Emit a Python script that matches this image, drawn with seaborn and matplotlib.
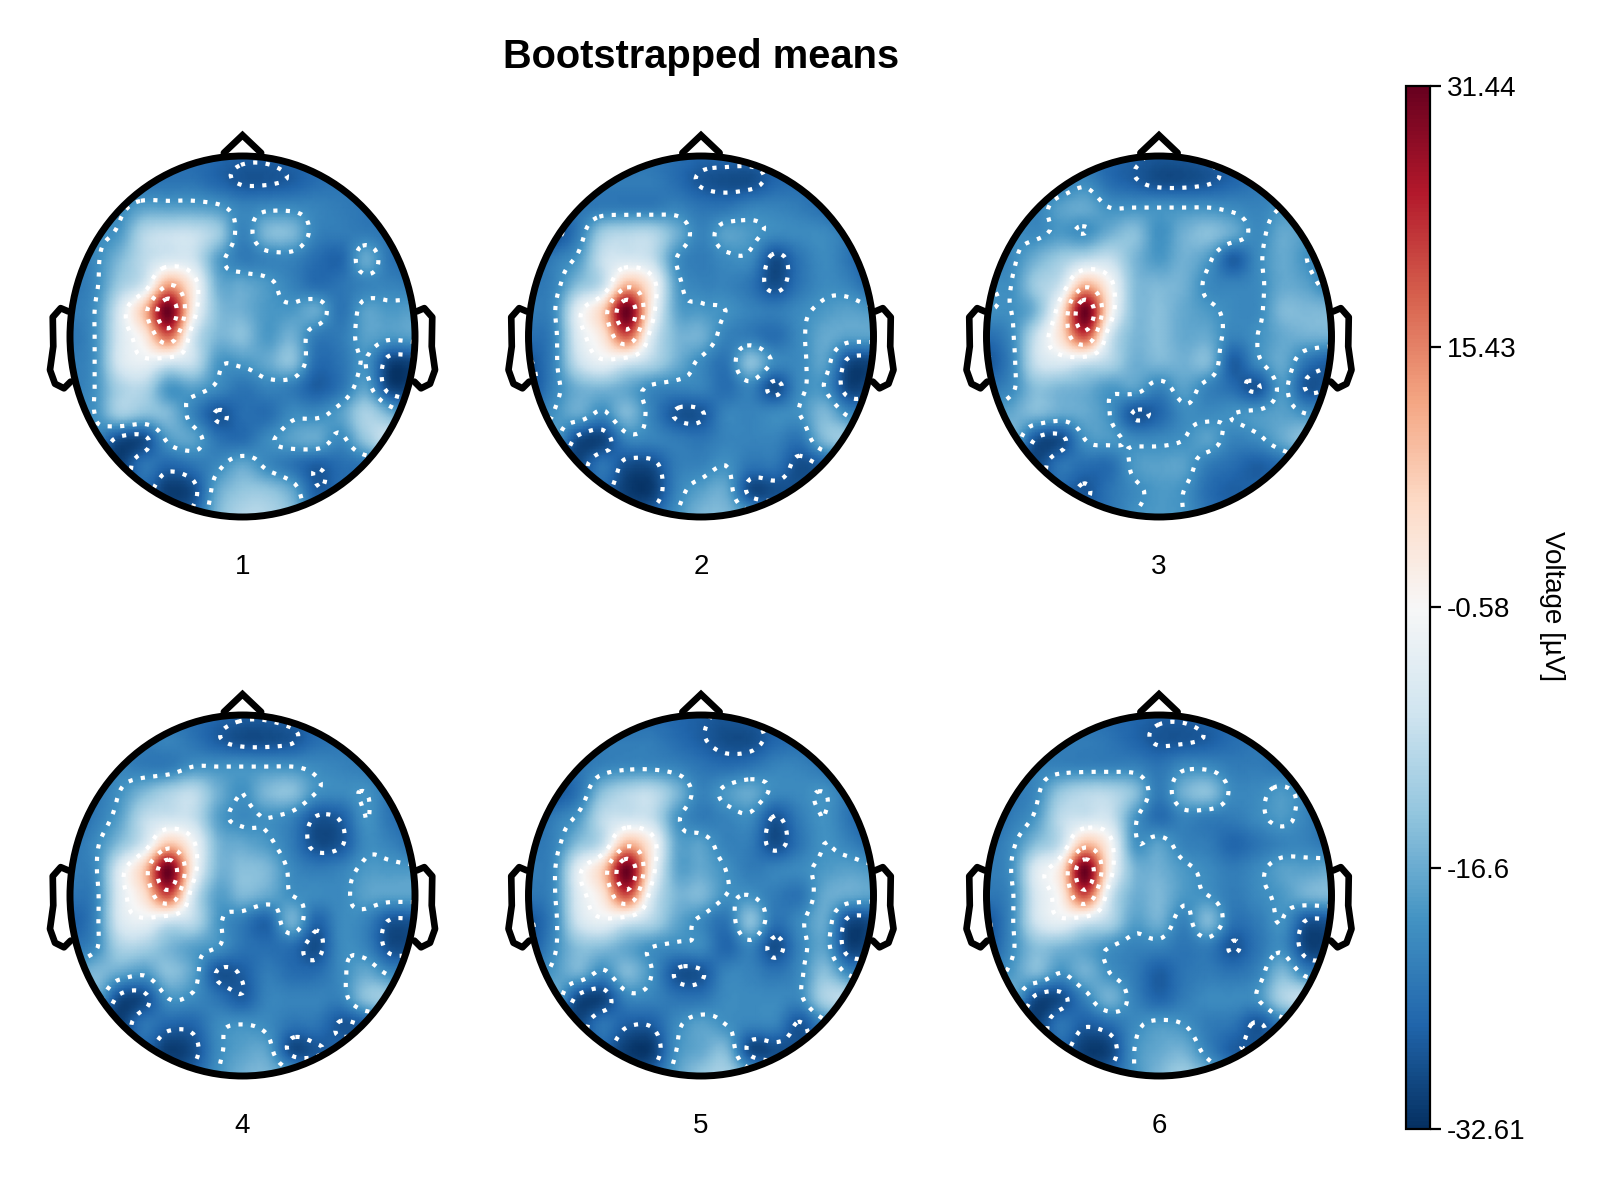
import matplotlib
matplotlib.use("Agg")
import matplotlib.pyplot as plt
import numpy as np
import seaborn as sns
from matplotlib.cm import ScalarMappable
from matplotlib.colors import Normalize
from matplotlib.patches import Ellipse

sns.set_theme(style="white")
plt.rcParams["font.family"] = ["Liberation Sans", "DejaVu Sans"]

# voltage on a 15x15 grid over the head, top row = front
panel_1 = [
    [-24,-24,-24,-24,-24,-25,-26,-27,-27,-26,-25,-24,-24,-24,-24],
    [-23,-23,-23,-24,-24,-24,-26,-28,-28,-27,-25,-24,-24,-24,-24],
    [-23,-22,-21,-18,-18,-18,-19,-22,-21,-21,-22,-23,-24,-25,-25],
    [-22,-21,-19,-10,-8,-8,-12,-22,-15,-15,-22,-23,-23,-24,-24],
    [-24,-21,-15,-9,-6,-7,-18,-23,-22,-22,-25,-26,-17,-24,-25],
    [-24,-21,-12,-6,12,1,-16,-17,-19,-22,-25,-24,-22,-22,-23],
    [-23,-20,-6,9,31,1,-14,-16,-19,-19,-17,-24,-18,-19,-18],
    [-24,-20,-6,2,18,-6,-15,-14,-19,-16,-23,-23,-18,-19,-18],
    [-23,-20,-6,-3,-6,-8,-19,-19,-17,-14,-25,-24,-20,-30,-30],
    [-23,-20,-11,-10,-19,-18,-21,-24,-22,-23,-27,-24,-18,-30,-30],
    [-21,-20,-12,-14,-15,-22,-28,-25,-25,-21,-21,-18,-11,-16,-24],
    [-26,-22,-29,-29,-19,-18,-24,-25,-21,-18,-17,-21,-13,-8,-16],
    [-28,-30,-31,-24,-26,-24,-21,-17,-21,-24,-27,-25,-24,-22,-23],
    [-28,-28,-29,-26,-31,-29,-17,-13,-13,-17,-27,-25,-24,-24,-24],
    [-28,-28,-28,-28,-28,-26,-15,-10,-10,-14,-24,-24,-24,-24,-24],
]
panel_2 = [
    [-24,-24,-24,-24,-24,-24,-25,-26,-26,-26,-26,-25,-25,-25,-25],
    [-24,-24,-24,-23,-23,-23,-25,-28,-29,-29,-26,-25,-25,-26,-26],
    [-25,-25,-24,-23,-23,-23,-22,-24,-24,-22,-22,-23,-25,-28,-26],
    [-28,-29,-23,-12,-10,-10,-16,-22,-18,-19,-21,-21,-21,-24,-29],
    [-27,-23,-19,-8,-6,-8,-20,-23,-21,-21,-29,-24,-21,-24,-29],
    [-24,-22,-14,-8,10,1,-18,-22,-22,-24,-29,-24,-21,-22,-26],
    [-23,-21,-4,7,31,1,-17,-19,-20,-22,-23,-21,-19,-18,-19],
    [-25,-22,-5,3,19,-5,-15,-16,-22,-23,-25,-21,-17,-18,-18],
    [-28,-22,-8,-3,-6,-10,-16,-21,-24,-14,-21,-21,-18,-29,-30],
    [-29,-22,-16,-15,-17,-21,-22,-22,-25,-22,-29,-21,-20,-30,-29],
    [-25,-20,-17,-21,-15,-22,-28,-28,-22,-22,-21,-20,-15,-21,-24],
    [-25,-19,-29,-30,-22,-22,-23,-24,-22,-22,-22,-24,-15,-13,-24],
    [-27,-30,-30,-24,-29,-29,-23,-22,-20,-24,-24,-29,-27,-25,-25],
    [-28,-28,-28,-26,-31,-31,-22,-18,-17,-29,-29,-28,-26,-25,-25],
    [-28,-28,-28,-28,-28,-26,-20,-15,-15,-18,-24,-25,-25,-25,-25],
]
panel_3 = [
    [-24,-24,-24,-24,-25,-26,-27,-28,-28,-27,-26,-25,-24,-24,-24],
    [-24,-24,-24,-23,-21,-25,-27,-29,-29,-28,-26,-24,-23,-24,-24],
    [-22,-22,-22,-18,-17,-20,-20,-20,-20,-20,-21,-22,-20,-20,-24],
    [-22,-21,-21,-19,-20,-16,-14,-20,-16,-14,-17,-21,-17,-19,-24],
    [-24,-21,-16,-12,-9,-8,-15,-19,-16,-19,-27,-21,-17,-20,-24],
    [-20,-20,-12,-7,10,0,-14,-15,-16,-21,-22,-21,-17,-18,-22],
    [-20,-20,-15,2,31,2,-14,-14,-17,-19,-21,-21,-15,-15,-15],
    [-25,-21,-8,4,20,-6,-15,-14,-17,-17,-22,-20,-17,-16,-16],
    [-28,-22,-8,-5,-7,-10,-16,-15,-16,-15,-27,-21,-17,-24,-27],
    [-24,-21,-14,-15,-16,-19,-18,-22,-18,-22,-25,-28,-19,-28,-27],
    [-20,-17,-15,-17,-17,-20,-28,-26,-21,-21,-20,-19,-18,-20,-22],
    [-18,-16,-28,-29,-20,-19,-21,-21,-20,-18,-22,-21,-17,-14,-20],
    [-28,-29,-30,-24,-25,-25,-19,-18,-18,-23,-25,-27,-25,-22,-22],
    [-28,-28,-28,-26,-28,-24,-21,-19,-20,-25,-27,-26,-25,-25,-25],
    [-28,-28,-28,-28,-26,-24,-20,-19,-20,-24,-26,-25,-25,-25,-25],
]
panel_4 = [
    [-24,-24,-24,-24,-24,-25,-26,-27,-27,-26,-25,-24,-24,-24,-24],
    [-23,-23,-23,-23,-22,-24,-27,-29,-29,-28,-25,-24,-24,-24,-24],
    [-24,-23,-22,-23,-23,-20,-20,-20,-20,-20,-21,-22,-23,-24,-24],
    [-27,-24,-20,-15,-11,-9,-16,-20,-15,-14,-20,-21,-20,-24,-28],
    [-27,-23,-18,-9,-7,-8,-18,-21,-20,-22,-28,-27,-20,-24,-26],
    [-24,-21,-14,-6,8,-1,-15,-17,-19,-23,-29,-28,-21,-22,-25],
    [-23,-21,-5,8,31,1,-15,-14,-15,-21,-23,-22,-19,-19,-19],
    [-24,-22,-5,4,20,-6,-18,-15,-17,-20,-21,-21,-18,-18,-18],
    [-27,-22,-6,-3,-7,-9,-19,-23,-26,-16,-26,-21,-22,-28,-28],
    [-24,-21,-11,-11,-15,-18,-20,-24,-25,-25,-29,-21,-22,-29,-29],
    [-20,-15,-17,-19,-14,-18,-28,-27,-23,-25,-25,-21,-17,-21,-23],
    [-22,-17,-29,-29,-20,-21,-24,-27,-22,-22,-22,-22,-14,-13,-23],
    [-28,-30,-31,-24,-26,-26,-21,-20,-21,-24,-24,-28,-27,-24,-24],
    [-28,-28,-29,-26,-31,-29,-21,-18,-18,-29,-28,-26,-25,-25,-25],
    [-28,-28,-28,-28,-28,-26,-20,-16,-15,-18,-24,-25,-25,-25,-25],
]
panel_5 = [
    [-24,-24,-24,-24,-25,-25,-26,-27,-28,-27,-26,-25,-25,-25,-25],
    [-24,-24,-24,-23,-23,-23,-25,-27,-29,-29,-26,-25,-25,-26,-26],
    [-25,-25,-24,-22,-21,-21,-22,-24,-25,-24,-22,-22,-24,-27,-26],
    [-28,-28,-24,-14,-10,-9,-15,-22,-19,-17,-21,-21,-20,-24,-29],
    [-27,-23,-19,-9,-7,-8,-19,-23,-22,-21,-28,-23,-20,-24,-28],
    [-24,-22,-14,-8,10,1,-17,-18,-22,-23,-29,-24,-20,-22,-25],
    [-23,-21,-4,7,31,1,-17,-17,-20,-23,-22,-21,-19,-18,-19],
    [-24,-21,-5,3,20,-5,-15,-15,-20,-20,-23,-24,-17,-17,-18],
    [-28,-22,-7,-3,-6,-10,-17,-21,-24,-14,-24,-21,-17,-29,-29],
    [-28,-21,-14,-14,-17,-20,-21,-21,-26,-22,-29,-22,-18,-30,-29],
    [-23,-19,-16,-21,-15,-20,-28,-28,-22,-22,-24,-21,-14,-21,-24],
    [-22,-17,-29,-30,-22,-22,-24,-24,-21,-21,-21,-21,-11,-10,-20],
    [-28,-30,-30,-24,-27,-27,-21,-18,-20,-22,-22,-28,-22,-20,-22],
    [-28,-28,-28,-26,-31,-31,-20,-17,-15,-29,-29,-28,-25,-25,-25],
    [-28,-28,-28,-28,-28,-26,-18,-13,-11,-17,-24,-25,-25,-25,-25],
]
panel_6 = [
    [-24,-24,-24,-24,-24,-25,-26,-27,-27,-26,-25,-25,-25,-25,-25],
    [-24,-24,-24,-23,-23,-24,-26,-28,-28,-27,-25,-24,-24,-24,-24],
    [-24,-23,-22,-22,-22,-22,-22,-24,-21,-21,-23,-23,-24,-25,-25],
    [-27,-24,-21,-13,-10,-10,-14,-23,-16,-14,-21,-21,-19,-22,-26],
    [-26,-23,-19,-9,-7,-7,-19,-25,-22,-23,-23,-21,-19,-22,-26],
    [-24,-21,-14,-8,9,0,-19,-18,-22,-23,-26,-24,-22,-22,-24],
    [-23,-20,-5,3,31,1,-15,-16,-19,-21,-23,-21,-18,-18,-17],
    [-24,-21,-6,1,20,-6,-16,-15,-19,-20,-23,-21,-19,-16,-15],
    [-28,-21,-7,-3,-6,-10,-18,-16,-22,-15,-24,-23,-20,-28,-28],
    [-28,-21,-14,-15,-17,-20,-22,-22,-24,-23,-28,-24,-21,-30,-30],
    [-23,-19,-15,-20,-16,-20,-23,-27,-24,-23,-24,-22,-15,-22,-24],
    [-22,-17,-29,-29,-22,-16,-22,-26,-23,-21,-21,-20,-11,-9,-20],
    [-28,-30,-31,-24,-27,-25,-21,-19,-20,-23,-24,-28,-23,-21,-23],
    [-28,-28,-29,-26,-31,-30,-20,-17,-16,-22,-27,-27,-25,-25,-25],
    [-28,-28,-28,-28,-28,-26,-20,-15,-12,-16,-22,-25,-25,-25,-25],
]
panels = [panel_1, panel_2, panel_3, panel_4, panel_5, panel_6]
panel_labels = ["1", "2", "3", "4", "5", "6"]
contour_levels = [-27.5, -20, -2, 12, 24]
cbar_ticks = [-32.61, -16.6, -0.58, 15.43, 31.44]
cbar_labels = ["-32.61", "-16.6", "-0.58", "15.43", "31.44"]
vmin, vmax = -32.61, 31.44

# head outline in head radii
nose_x = [-0.108, 0, 0.108]
nose_y = [1.017, 1.115, 1.017]
ear_x = [1.01, 1.054, 1.10, 1.097, 1.116, 1.087, 1.035, 0.996]
ear_y = [0.139, 0.157, 0.107, -0.055, -0.185, -0.262, -0.287, -0.25]

W, H = 1600, 1200
centers_x = [242.5, 701, 1159]
centers_y = [336.5, 895.5]
rx, ry = 172.5, 180.5
pad = 1.25
k = 8  # display smoothing per grid step
n = (len(panel_1) - 1) * k + 1
cmap = sns.color_palette("RdBu_r", as_cmap=True)


def to_grid(v):
    return (np.asarray(v) + 1) * (n - 1) / 2


def smooth_axis(a):
    # catmull-rom between rows, only for drawing the surface
    a = np.vstack([a[0], a, a[-1]])
    t = (np.arange(k) / k)[:, None, None]
    p0, p1, p2, p3 = a[:-3], a[1:-2], a[2:-1], a[3:]
    s = 0.5 * (2 * p1 + (p2 - p0) * t + (2 * p0 - 5 * p1 + 4 * p2 - p3) * t ** 2
               + (3 * p1 - p0 - 3 * p2 + p3) * t ** 3)
    s = s.transpose(1, 0, 2).reshape(-1, a.shape[1])
    return np.vstack([s, a[-2]])


def smooth(grid):
    return smooth_axis(smooth_axis(grid).T).T


def draw_topo(ax, grid, label):
    fine = smooth(grid)
    sns.heatmap(fine, ax=ax, cmap=cmap, vmin=vmin, vmax=vmax, cbar=False,
                xticklabels=False, yticklabels=False, shading="gouraud")
    head = Ellipse((to_grid(0), to_grid(0)), n - 1, n - 1, fc="none", ec="black",
                   lw=5, zorder=5)
    ax.add_patch(head)
    ax.collections[0].set_clip_path(head)
    cs = ax.contour(np.arange(n), np.arange(n), fine, levels=contour_levels,
                    colors="white", linewidths=3, linestyles=[(0, (1, 2))], zorder=3)
    cs.set_clip_path(head)
    ax.plot(to_grid(nose_x), to_grid(-np.array(nose_y)), color="black", lw=4.8,
            solid_joinstyle="miter", zorder=4)
    for side in (-1, 1):
        ax.plot(to_grid(side * np.array(ear_x)), to_grid(-np.array(ear_y)), color="black",
                lw=4.8, zorder=4)
    ax.set_xlim(to_grid(-pad), to_grid(pad))
    ax.set_ylim(to_grid(pad), to_grid(-pad))
    ax.axis("off")
    ax.text(to_grid(0), to_grid(1.275), label, ha="center", va="center", fontsize=20,
            color="black", clip_on=False)


fig = plt.figure(figsize=(16, 12), dpi=100)
for i, (grid, label) in enumerate(zip(panels, panel_labels)):
    cx = centers_x[i % 3]
    cy = centers_y[i // 3]
    ax = fig.add_axes([(cx - pad * rx) / W, 1 - (cy + pad * ry) / H,
                       2 * pad * rx / W, 2 * pad * ry / H])
    draw_topo(ax, np.array(grid, dtype=float), label)

fig.text(701 / W, 1 - 57 / H, "Bootstrapped means", ha="center", va="center",
         fontsize=28.7, fontweight="bold", color="black")

cax = fig.add_axes([1406 / W, 1 - 1129 / H, 24 / W, 1043 / H])
cb = fig.colorbar(ScalarMappable(Normalize(vmin, vmax), cmap), cax=cax, ticks=cbar_ticks)
cb.ax.set_yticklabels(cbar_labels)
cb.ax.tick_params(length=8, width=1.6, labelsize=20, pad=4, right=True, colors="black")
cb.outline.set_linewidth(1.6)
cb.outline.set_edgecolor("black")
fig.text(1552 / W, 1 - 606 / H, "Voltage [µV]", rotation=270, ha="center", va="center",
         fontsize=20, color="black")

fig.savefig("out.png", dpi=100)
